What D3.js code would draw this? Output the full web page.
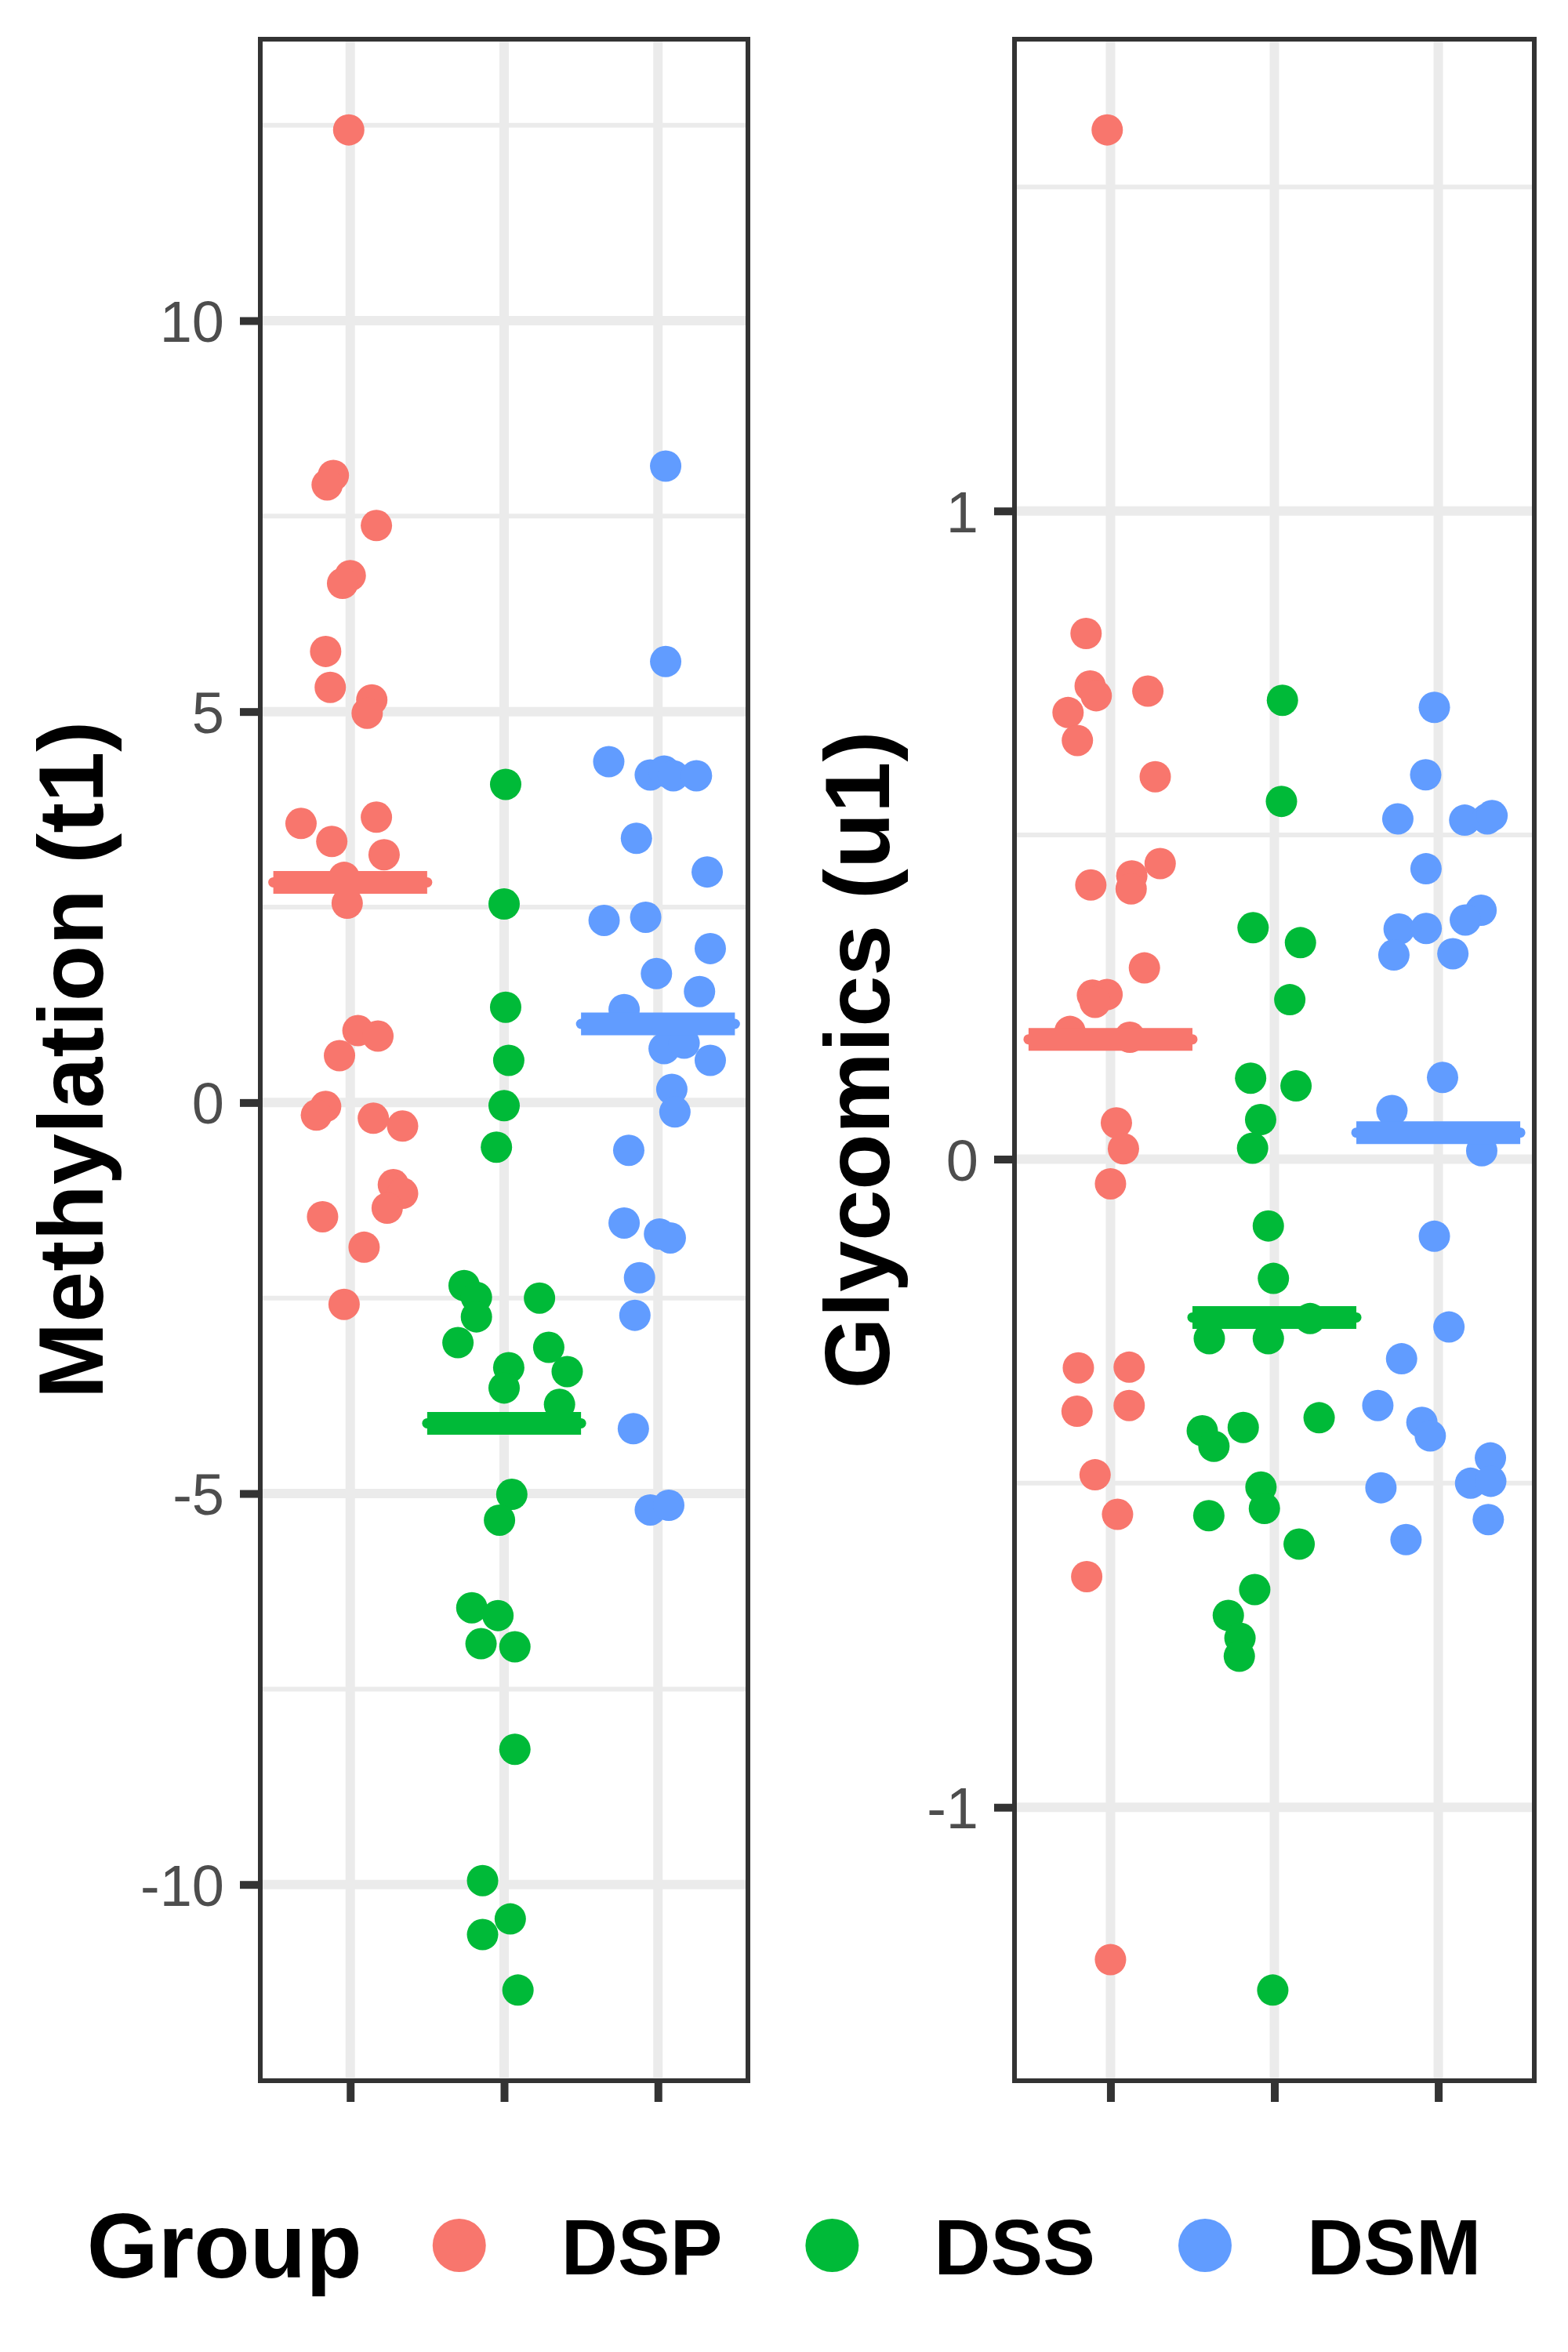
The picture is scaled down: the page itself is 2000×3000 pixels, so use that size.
<!DOCTYPE html>
<html lang="en">
<head>
<meta charset="UTF-8" />
<title>Methylation (t1) and Glycomics (u1) by group</title>
<script src="https://d3js.org/d3.v7.min.js"></script>
<style>
  body { margin: 0; background: #fff; }
  svg { display: block; font-family: "Liberation Sans", Arial, sans-serif; }
</style>
</head>
<body>
<svg width="2000" height="3000"></svg>
<script>
const groups = ["DSP", "DSS", "DSM"];
const groupColors = ["#F8766D", "#00BA38", "#619CFF"];

// Methylation (t1) per group, with the jitter offset of each point (in category units)
const methDSP = [12.44, 8.02, 7.90, 7.38, 6.74, 6.64, 5.77, 5.31, 5.15, 4.98, 3.57, 3.34, 3.65, 3.17, 2.88, 2.55,
  0.92, 0.85, 0.60, -0.05, -0.16, -0.20, -0.30, -1.05, -1.16, -1.35, -1.46, -1.85, -2.58];
const methDSPJitter = [-0.01, -0.11, -0.15, 0.17, 0.00, -0.05, -0.16, -0.13, 0.14, 0.11, -0.32, -0.12, 0.17, 0.22, -0.04, -0.02,
  0.05, 0.18, -0.07, -0.16, -0.22, 0.15, 0.34, 0.28, 0.34, 0.24, -0.18, 0.09, -0.04];
const methDSS = [4.07, 2.54, 1.22, 0.54, -0.04, -0.57, -2.34, -2.49, -2.50, -2.74, -3.07, -3.13, -3.39, -3.44, -3.65, -3.86,
  -5.01, -5.34, -6.46, -6.56, -6.92, -6.96, -8.27, -9.95, -10.44, -10.64, -11.35];
const methDSSJitter = [0.01, 0.00, 0.01, 0.03, 0.00, -0.05, -0.26, -0.18, 0.23, -0.18, -0.30, 0.29, 0.03, 0.41, 0.00, 0.36,
  0.05, -0.03, -0.21, -0.04, -0.15, 0.07, 0.07, -0.14, 0.04, -0.14, 0.09];
const methDSM = [8.14, 5.64, 4.36, 4.19, 4.24, 4.18, 4.18, 3.38, 2.95, 2.33, 2.37, 1.97, 1.65, 1.42, 1.19, 0.69, 0.76, 0.54,
  0.17, -0.12, -0.61, -1.54, -1.68, -1.73, -2.24, -2.72, -4.17, -5.21, -5.15];
const methDSMJitter = [0.05, 0.05, -0.32, -0.05, 0.04, 0.10, 0.25, -0.14, 0.32, -0.35, -0.08, 0.34, -0.01, 0.27, -0.22, 0.04, 0.17, 0.34,
  0.09, 0.11, -0.19, -0.22, 0.01, 0.08, -0.12, -0.15, -0.16, -0.05, 0.07];

// Glycomics (u1)
const glycDSP = [1.588, 0.811, 0.730, 0.715, 0.689, 0.722, 0.646, 0.590, 0.423, 0.437, 0.417, 0.456, 0.295, 0.253, 0.254, 0.242,
  0.197, 0.188, 0.056, 0.016, -0.038, -0.322, -0.321, -0.389, -0.380, -0.487, -0.548, -0.644, -1.235];
const glycDSPJitter = [-0.02, -0.149, -0.124, -0.087, -0.259, 0.228, -0.202, 0.273, -0.120, 0.130, 0.126, 0.303, 0.207, -0.110, -0.021, -0.094,
  -0.247, 0.118, 0.036, 0.079, 0.000, -0.196, 0.114, -0.204, 0.114, -0.094, 0.043, -0.145, 0.00];
const glycDSS = [0.708, 0.552, 0.357, 0.334, 0.246, 0.125, 0.113, 0.061, 0.017, -0.103, -0.184, -0.246, -0.277, -0.277, -0.399, -0.419,
  -0.443, -0.414, -0.506, -0.539, -0.550, -0.594, -0.664, -0.704, -0.739, -0.767, -1.282];
const glycDSSJitter = [0.049, 0.043, -0.130, 0.159, 0.094, -0.145, 0.132, -0.084, -0.133, -0.037, -0.006, 0.218, -0.397, -0.037, 0.273, -0.44,
  -0.369, -0.190, -0.082, -0.061, -0.40, 0.151, -0.120, -0.281, -0.210, -0.214, -0.01];
const glycDSM = [0.697, 0.593, 0.525, 0.523, 0.525, 0.530, 0.448, 0.384, 0.369, 0.355, 0.356, 0.315, 0.317, 0.126, 0.075, 0.013,
  -0.119, -0.259, -0.308, -0.380, -0.406, -0.427, -0.461, -0.500, -0.497, -0.507, -0.556, -0.587];
const glycDSMJitter = [-0.024, -0.077, -0.247, 0.161, 0.299, 0.328, -0.075, 0.261, 0.165, -0.239, -0.074, -0.271, 0.089, 0.026, -0.283, 0.265,
  -0.024, 0.065, -0.224, -0.369, -0.100, -0.049, 0.318, 0.197, 0.320, -0.350, 0.305, -0.197];

const methTicks = [-10, -5, 0, 5, 10];
const glycTicks = [-1, 0, 1];

const svg = d3.select("svg");
const panelTop = 47, panelBottom = 2657;

const panels = [
  { title: "Methylation (t1)", left: 329, right: 957, ticks: methTicks,
    values: [methDSP, methDSS, methDSM], jitter: [methDSPJitter, methDSSJitter, methDSMJitter] },
  { title: "Glycomics (u1)", left: 1291, right: 1960, ticks: glycTicks,
    values: [glycDSP, glycDSS, glycDSM], jitter: [glycDSPJitter, glycDSSJitter, glycDSMJitter] }
];

panels.forEach((p) => {
  const g = svg.append("g");

  const x = d3.scalePoint().domain(groups).range([p.left, p.right]).padding(0.6);
  const [lo, hi] = d3.extent(p.values.flat());
  const pad = (hi - lo) * 0.05;
  const y = d3.scaleLinear().domain([lo - pad, hi + pad]).range([panelBottom, panelTop]);

  // minor breaks halfway between the majors
  const step = p.ticks[1] - p.ticks[0];
  const minor = [p.ticks[0] - step / 2, ...p.ticks.map((t) => t + step / 2)]
    .filter((v) => v > y.domain()[0] && v < y.domain()[1]);

  g.selectAll(".minor")
    .data(minor)
    .enter()
    .append("line")
    .attr("x1", p.left).attr("x2", p.right)
    .attr("y1", (d) => y(d)).attr("y2", (d) => y(d))
    .attr("stroke", "#EBEBEB").attr("stroke-width", 6);

  g.selectAll(".major")
    .data(p.ticks)
    .enter()
    .append("line")
    .attr("x1", p.left).attr("x2", p.right)
    .attr("y1", (d) => y(d)).attr("y2", (d) => y(d))
    .attr("stroke", "#EBEBEB").attr("stroke-width", 12);

  g.selectAll(".vgrid")
    .data(groups)
    .enter()
    .append("line")
    .attr("x1", (d) => x(d)).attr("x2", (d) => x(d))
    .attr("y1", panelTop).attr("y2", panelBottom)
    .attr("stroke", "#EBEBEB").attr("stroke-width", 12);

  // points
  groups.forEach((grp, i) => {
    const pts = p.values[i].map((v, k) => ({ v, j: p.jitter[i][k] }));
    g.selectAll(".pt-" + grp)
      .data(pts)
      .enter()
      .append("circle")
      .attr("cx", (d) => x(grp) + d.j * x.step())
      .attr("cy", (d) => y(d.v))
      .attr("r", 20)
      .attr("fill", groupColors[i]);
  });

  // group means
  groups.forEach((grp, i) => {
    const m = d3.mean(p.values[i]);
    const x1 = x(grp) - 0.5 * x.step();
    const x2 = x(grp) + 0.5 * x.step();
    g.append("line")
      .attr("x1", x1).attr("x2", x2).attr("y1", y(m)).attr("y2", y(m))
      .attr("stroke", groupColors[i]).attr("stroke-width", 13).attr("stroke-linecap", "round");
    g.append("line")
      .attr("x1", x1).attr("x2", x2).attr("y1", y(m)).attr("y2", y(m))
      .attr("stroke", groupColors[i]).attr("stroke-width", 29);
  });

  // border (inner half only, like ggplot's clipped panel border)
  g.append("rect")
    .attr("x", p.left + 3).attr("y", panelTop + 3)
    .attr("width", p.right - p.left - 6).attr("height", panelBottom - panelTop - 6)
    .attr("fill", "none").attr("stroke", "#333333").attr("stroke-width", 6);

  const yAxis = g.append("g")
    .attr("transform", `translate(${p.left},0)`)
    .call(d3.axisLeft(y).tickValues(p.ticks).tickSize(23).tickPadding(20).tickFormat(d3.format("d")));
  const xAxis = g.append("g")
    .attr("transform", `translate(0,${panelBottom})`)
    .call(d3.axisBottom(x).tickSize(24).tickFormat(""));

  [yAxis, xAxis].forEach((a) => {
    a.select(".domain").remove();
    a.selectAll(".tick line").attr("stroke", "#333333").attr("stroke-width", 10);
  });
  yAxis.selectAll(".tick text")
    .attr("font-family", "Liberation Sans, Arial, sans-serif")
    .attr("font-size", 74)
    .attr("fill", "#4D4D4D")
    .attr("dy", "0.36em")
    .text((d) => String(d).replace("-", "-"));

  const box = yAxis.node().getBBox();
  const tx = p.left + box.x - 48;
  g.append("text")
    .attr("transform", `translate(${tx},${(panelTop + panelBottom) / 2}) rotate(-90)`)
    .attr("text-anchor", "middle")
    .attr("font-size", 117)
    .attr("font-weight", "bold")
    .attr("fill", "#000")
    .text(p.title);
});

// legend
const legend = svg.append("g");
const legTitle = legend.append("text")
  .attr("x", 0).attr("y", 2905)
  .attr("font-size", 117).attr("font-weight", "bold")
  .text("Group");
let cursor = legTitle.node().getComputedTextLength() + 124;
groups.forEach((grp, i) => {
  legend.append("circle")
    .attr("cx", cursor).attr("cy", 2864).attr("r", 34)
    .attr("fill", groupColors[i]);
  const lab = legend.append("text")
    .attr("x", cursor + 130).attr("y", 2901)
    .attr("font-size", 100).attr("font-weight", "bold")
    .text(grp);
  cursor += 130 + lab.node().getComputedTextLength();
  if (i < groups.length - 1) cursor += 140;
});
legend.attr("transform", `translate(${(2000 - cursor) / 2},0)`);
</script>
</body>
</html>
